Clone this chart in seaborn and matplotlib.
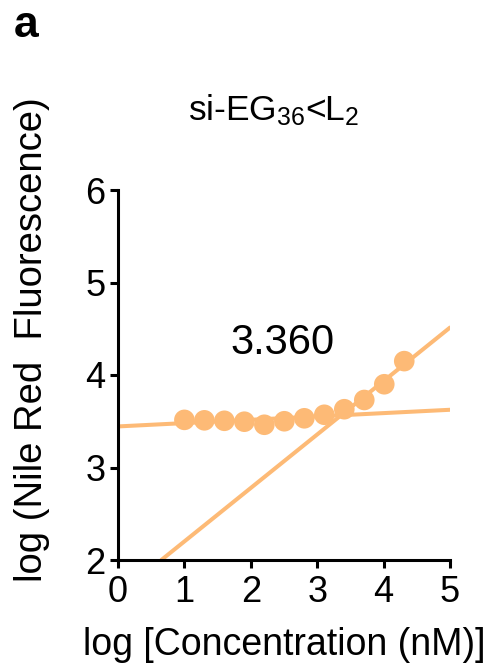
import numpy as np
import pandas as pd
import matplotlib
matplotlib.use("Agg")
import matplotlib.pyplot as plt
import seaborn as sns

# Measured data: log concentration vs log Nile Red fluorescence
log_conc = [1.000, 1.301, 1.602, 1.903, 2.204, 2.505, 2.806, 3.107, 3.408, 3.709, 4.010, 4.311]
log_fluor = [3.515, 3.510, 3.505, 3.495, 3.462, 3.500, 3.532, 3.570, 3.630, 3.730, 3.900, 4.150]

# Two linear fits: baseline (below CAC) and rising segment (above CAC)
flat_slope, flat_intercept = 0.036, 3.444
steep_slope = 0.578
break_x = 3.360  # intersection of the two fits (critical aggregation concentration)

x_ticks = [0, 1, 2, 3, 4, 5]
y_ticks = [2, 3, 4, 5, 6]

orange = "#FDBA76"

sns.set_style("ticks")
plt.rcParams["font.family"] = ["Liberation Sans", "DejaVu Sans"]
plt.rcParams["mathtext.default"] = "regular"
for key in ("text.color", "axes.labelcolor", "xtick.color", "ytick.color", "axes.edgecolor"):
    plt.rcParams[key] = "black"

fig = plt.figure(figsize=(4.95, 6.71), dpi=100)
ax = fig.add_axes([118 / 495, 1 - 560 / 671, 332 / 495, 370 / 671])

# Fit lines
steep_intercept = flat_intercept + flat_slope * break_x - steep_slope * break_x
xs_flat = np.array([0.0, 5.0])
xs_steep = np.array([(2.0 - steep_intercept) / steep_slope, 5.0])
fits = pd.concat([
    pd.DataFrame({"x": xs_flat, "y": flat_intercept + flat_slope * xs_flat, "fit": "flat"}),
    pd.DataFrame({"x": xs_steep, "y": steep_intercept + steep_slope * xs_steep, "fit": "steep"}),
])
sns.lineplot(data=fits, x="x", y="y", units="fit", estimator=None, color=orange,
             linewidth=2.9, ax=ax, legend=False, zorder=2)

pts = pd.DataFrame({"x": log_conc, "y": log_fluor})
sns.scatterplot(data=pts, x="x", y="y", color=orange, s=220, edgecolor="none",
                ax=ax, legend=False, zorder=3, clip_on=False)

ax.set_xlim(0, 5)
ax.set_ylim(2, 6)
ax.set_xticks(x_ticks)
ax.set_yticks(y_ticks)
ax.tick_params(axis="both", labelsize=26, width=2.2, length=6, color="black",
               labelcolor="black", pad=3)
ax.tick_params(axis="x", pad=5)
for side in ("left", "bottom"):
    ax.spines[side].set_linewidth(2.2)
    ax.spines[side].set_color("black")
sns.despine(ax=ax)

ax.set_xlabel("log [Concentration (nM)]", fontsize=27, labelpad=12, color="black")
ax.set_ylabel("")
fig.text(32 / 495, 1 - 340 / 671, "log (Nile Red  Fluorescence)", rotation=90,
         fontsize=27.5, ha="center", va="center", color="black")

ax.text(2.48, 4.35, f"{break_x:.3f}", fontsize=30, ha="center", va="center", color="black")

fig.text(274 / 495, 1 - 110 / 671, "si-EG$_{36}$<L$_2$", fontsize=25.5,
         ha="center", va="center", color="black")
fig.text(14 / 495, 1 - 37 / 671, "a", fontsize=32, fontweight="bold",
         family=["Liberation Sans", "DejaVu Sans"], ha="left", va="baseline", color="black")

fig.savefig("out.png", dpi=100)
